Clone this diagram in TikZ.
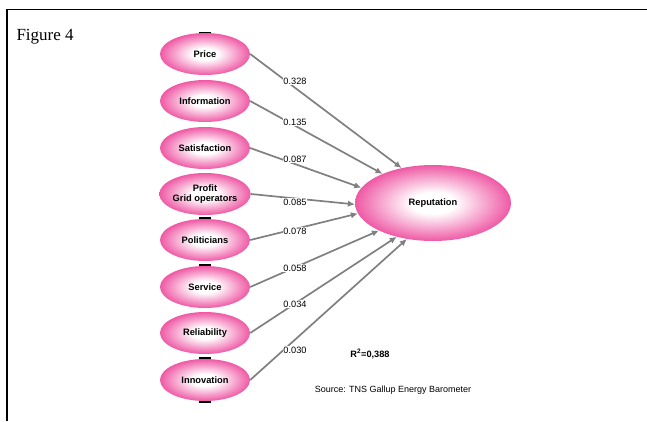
\documentclass[tikz,border=0pt]{standalone}
\usepackage{fontspec}
\setmainfont{Liberation Sans}
\newfontfamily\timesfont{Liberation Serif}
\usetikzlibrary{shapes.geometric,arrows.meta}
\definecolor{pinkrim}{RGB}{228,10,120}
\definecolor{pinkmid}{RGB}{238,80,160}
\definecolor{pathgray}{RGB}{128,128,128}
\pgfdeclareradialshading{pinkball}{\pgfpoint{0bp}{0bp}}{%
  color(0bp)=(white); color(7bp)=(white); color(26bp)=(pinkmid);
  color(38bp)=(pinkrim); color(50bp)=(pinkrim)}
\tikzset{
  construct/.style={ellipse,shading=pinkball,inner sep=0pt,
    font=\fontsize{9.3}{10}\selectfont\bfseries,align=center},
  path/.style={draw=pathgray,line width=1.7pt,
    -{Latex[length=7pt,width=6.5pt]}},
  coef/.style={fill=white,inner sep=0.4pt,font=\fontsize{9.2}{10}\selectfont},
}
\begin{document}
\begin{tikzpicture}[x=1pt,y=-1pt]
\useasboundingbox (0,0) rectangle (647,421);
\draw[line width=1.6pt] (7,421) -- (7,9.5) -- (647,9.5);
\node[anchor=base west,font=\timesfont\fontsize{17}{20}\selectfont] (title) at (13,40) {Figure 4};
% the eight drivers
\foreach \name/\y/\txt in {price/54/Price,info/101/Information,satis/148/Satisfaction,
  profit/194/{Profit\\Grid operators},polit/240/Politicians,serv/287/Service,
  reli/333/Reliability,innov/380/Innovation}
  \node[construct,minimum width=90pt,minimum height=42pt] (\name) at (205,\y) {\txt};
\node[construct,minimum width=156pt,minimum height=76pt] (rep) at (433,203) {Reputation};
% handles
\foreach \y in {32.5,218,265,358,402}
  \draw[line width=1.4pt] (199,\y) -- (211,\y);
% paths
\draw[path] (price.east) -- (rep.132);
\draw[path] (info.east) -- (rep.150);
\draw[path] (satis.east) -- (rep.168);
\draw[path] (profit.east) -- (rep.181);
\draw[path] (polit.east) -- (rep.188);
\draw[path] (serv.east) -- (rep.207);
\draw[path] (reli.east) -- (rep.223);
\draw[path] (innov.east) -- (rep.234);
\node[coef] (c1) at (295,81) {0.328};
\node[coef] (c2) at (295,122) {0.135};
\node[coef] (c3) at (295,159) {0.087};
\node[coef] (c4) at (295,202) {0.085};
\node[coef] (c5) at (295,231) {0.078};
\node[coef] (c6) at (295,268) {0.058};
\node[coef] (c7) at (295,304) {0.034};
\node[coef] (c8) at (295,350) {0.030};
\node[font=\fontsize{9.2}{10}\selectfont\bfseries] (rsq) at (370,354) {R\textsuperscript{2}=0,388};
\node[font=\fontsize{9}{10}\selectfont] (source) at (393,390) {Source: TNS Gallup Energy Barometer};
\end{tikzpicture}
\end{document}
